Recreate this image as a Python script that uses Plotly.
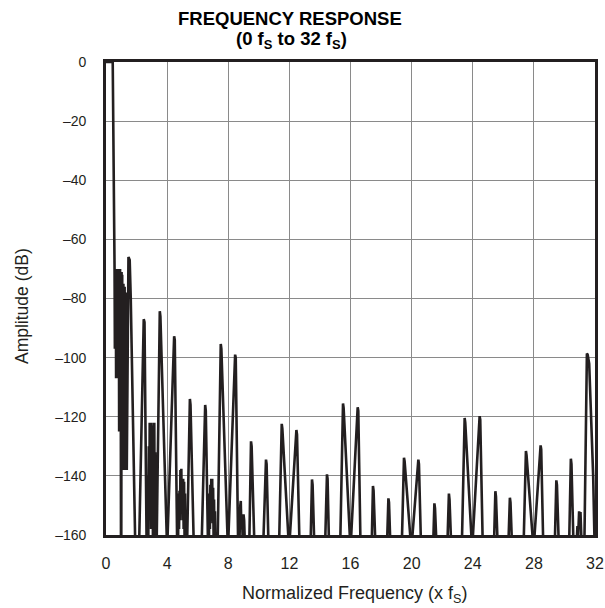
import plotly.graph_objects as go

# ---- data (frequency in multiples of fS, amplitude in dB) ----
f_lobe = [0.0, 0.44, 0.56,
          0.58, 0.60, 0.62, 0.64, 0.66, 0.68, 0.70, 0.72, 0.74, 0.76, 0.78, 0.80, 0.82,
          0.84, 0.86, 0.88, 0.90, 0.92, 0.94, 0.96, 0.98, 1.00, 1.02, 1.04, 1.06, 1.08,
          1.10, 1.12, 1.14, 1.16, 1.18, 1.20, 1.22, 1.24, 1.26, 1.28, 1.30, 1.32, 1.34,
          1.36, 1.47, 1.55, 1.62, 1.92]
a_lobe = [0, 0, -70,
          -97, -70, -97, -70, -107, -70, -107, -70, -106, -70, -107, -70, -107,
          -71, -125, -70, -124, -70, -125, -71, -165, -165, -71, -125, -72, -124,
          -75, -138, -75, -137, -76, -138, -76, -137, -78, -138, -78, -137, -80,
          -138, -66, -67, -80, -165]

f_low = [2.16, 2.47, 2.52, 2.66,
         2.68, 2.71, 2.74, 2.77, 2.80, 2.83, 2.86, 2.89, 2.92, 2.95, 2.98, 3.01, 3.04,
         3.07, 3.10, 3.13, 3.16, 3.19, 3.22, 3.25, 3.28, 3.31,
         3.52, 3.56, 4.00, 4.46, 4.50, 4.66,
         4.69, 4.72, 4.75, 4.78, 4.81, 4.84, 4.87, 4.90, 4.93, 4.96, 4.99, 5.02, 5.05,
         5.08, 5.11, 5.14, 5.17, 5.20,
         5.30, 5.49, 5.53, 5.75,
         6.25, 6.49, 6.53, 6.68,
         6.71, 6.74, 6.77, 6.80, 6.83, 6.86, 6.89, 6.92, 6.95, 6.98, 7.01, 7.04, 7.07,
         7.10, 7.13, 7.16,
         7.30, 7.51, 7.55, 7.98, 8.45, 8.49, 8.65,
         8.72, 8.79, 8.82, 8.86, 8.90, 8.95, 9.00, 9.04, 9.10]
a_low = [-165, -87, -88, -165,
         -150, -165, -140, -160, -130, -155, -122, -150, -123, -158, -122, -148, -123,
         -160, -125, -150, -122, -160, -132, -155, -140, -165,
         -84.3, -86, -165, -92.8, -94, -165,
         -147, -160, -146, -158, -145, -155, -138, -150, -137.6, -152, -141, -155, -141,
         -158, -142, -160, -146, -165,
         -165, -114, -116, -165,
         -165, -116, -118, -165,
         -150, -160, -146, -158, -143, -155, -141, -152, -141, -156, -144, -160, -148,
         -162, -152, -165,
         -165, -95.4, -97, -165, -99, -100, -165,
         -165, -150, -148.5, -158, -154, -162, -153, -155, -165]

f_mid = [9.37, 9.49, 9.53, 9.72,
         10.28, 10.47, 10.51, 10.64,
         11.32, 11.50, 11.54, 11.98, 12.46, 12.50, 12.67,
         13.38, 13.48, 13.52, 13.64,
         14.33, 14.46, 14.50, 14.60,
         15.32, 15.51, 15.55, 16.00, 16.47, 16.51, 16.66,
         17.38, 17.47, 17.51, 17.64,
         18.38, 18.48, 18.52, 18.62,
         19.35, 19.50, 19.54, 19.98, 20.44, 20.48, 20.62]
a_mid = [-165, -128.3, -130, -165,
         -165, -134.5, -136, -165,
         -165, -122.4, -124, -165, -124.5, -126, -165,
         -165, -141.2, -143, -165,
         -165, -139.5, -141, -165,
         -165, -115.5, -117, -165, -116.8, -118, -165,
         -165, -143.4, -145, -165,
         -165, -147.6, -149, -165,
         -165, -133.9, -135, -165, -134.5, -136, -165]

f_high = [21.40, 21.49, 21.53, 21.64,
          22.33, 22.44, 22.48, 22.60,
          23.28, 23.47, 23.51, 23.96, 24.45, 24.49, 24.66,
          25.38, 25.48, 25.52, 25.64,
          26.32, 26.43, 26.47, 26.58,
          27.32, 27.48, 27.52, 27.98, 28.44, 28.48, 28.62,
          29.36, 29.47, 29.51, 29.64,
          30.30, 30.42, 30.46, 30.60,
          30.78, 30.85, 30.90, 30.96, 31.00, 31.05, 31.10, 31.16,
          31.30, 31.47, 31.52, 31.62, 31.88, 31.98, 32.0]
a_high = [-165, -149.3, -151, -165,
          -165, -146, -148, -165,
          -165, -120.4, -122, -165, -119.8, -121, -165,
          -165, -145.2, -147, -165,
          -165, -147.4, -149, -165,
          -165, -131.6, -133, -165, -129.7, -131, -165,
          -165, -141.5, -143, -165,
          -165, -134.2, -136, -165,
          -165, -157, -160, -152, -154, -152.2, -160, -165,
          -165, -98.6, -99, -102, -140, -165, -165]

x_ticks = [0, 4, 8, 12, 16, 20, 24, 28, 32]
y_ticks = [0, -20, -40, -60, -80, -100, -120, -140, -160]
y_tick_text = ["0", "–20", "–40", "–60", "–80", "–100", "–120", "–140", "–160"]

freq = f_lobe + f_low + f_mid + f_high
amp = a_lobe + a_low + a_mid + a_high

ink = "#231f20"
font_family = "Liberation Sans, Arial, sans-serif"

W, H = 605, 608
ML, MR, MT, MB = 106, 10, 62, 73
PW, PH = W - ML - MR, H - MT - MB


def px_x(px):
    return (px - ML) / PW


def px_y(py):
    return 1 - (py - MT) / PH


fig = go.Figure()
fig.add_trace(go.Scatter(x=freq, y=amp, mode="lines",
                         line=dict(color=ink, width=2.6, simplify=False),
                         hoverinfo="skip", showlegend=False))

annotations = [
    dict(text="<b>FREQUENCY RESPONSE</b>", x=px_x(290), y=px_y(18),
         font=dict(size=18.5, color="black")),
    dict(text="<b>(0 f<sub>S</sub> to 32 f<sub>S</sub>)</b>", x=px_x(291), y=px_y(40),
         font=dict(size=18.5, color="black")),
    dict(text="Normalized Frequency (x f<sub>S</sub>)", x=px_x(354), y=px_y(594),
         font=dict(size=18, color=ink)),
    dict(text="Amplitude (dB)", x=px_x(22), y=px_y(306), textangle=-90,
         font=dict(size=17.5, color=ink)),
]
for a in annotations:
    a.update(xref="paper", yref="paper", xanchor="center", yanchor="middle",
             showarrow=False)

fig.update_layout(
    width=W, height=H, autosize=False,
    margin=dict(l=ML, r=MR, t=MT, b=MB, autoexpand=False),
    paper_bgcolor="white", plot_bgcolor="white",
    font=dict(family=font_family, color=ink, size=14),
    annotations=annotations,
)

fig.update_xaxes(range=[0, 32], tickvals=x_ticks, ticktext=[str(v) for v in x_ticks],
                 showgrid=True, gridcolor="#8a8a8a", gridwidth=1.4,
                 showline=True, linecolor=ink, linewidth=2.6, mirror=True,
                 ticks="", ticklabelstandoff=12, zeroline=False, automargin=False,
                 ticklabeloverflow="allow", tickfont=dict(size=16))
fig.update_yaxes(range=[-160, 0], tickvals=y_ticks, ticktext=y_tick_text,
                 showgrid=True, gridcolor="#8a8a8a", gridwidth=1.4,
                 showline=True, linecolor=ink, linewidth=2.6, mirror=True,
                 ticks="", ticklabelstandoff=14, zeroline=False, automargin=False,
                 tickfont=dict(size=14))

fig.write_html("out.html", config={"displayModeBar": False},
               post_script="document.body.style.margin='0';")
